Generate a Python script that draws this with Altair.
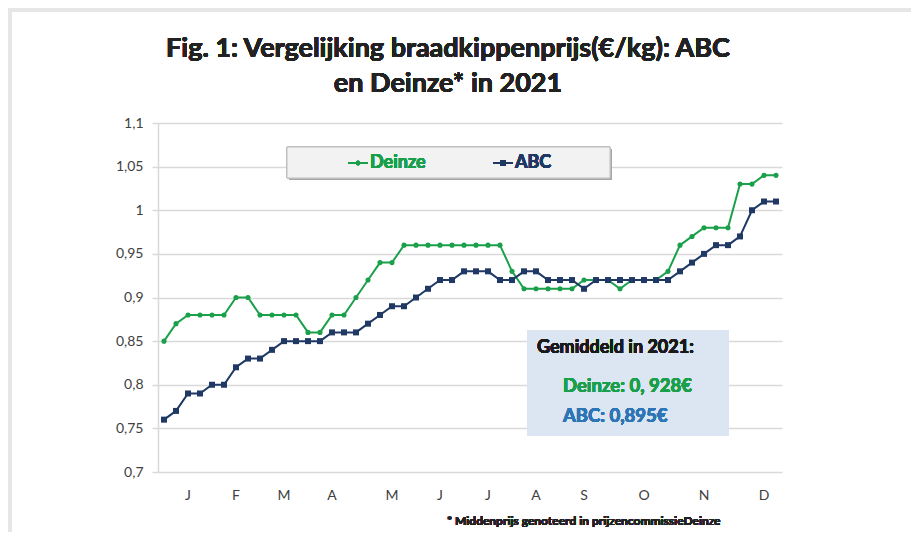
import altair as alt
import pandas as pd

# ---- data (weekly quotations 2021) ----
weeks = list(range(52))
deinze = [0.85, 0.87, 0.88, 0.88, 0.88, 0.88, 0.90, 0.90, 0.88, 0.88,
          0.88, 0.88, 0.86, 0.86, 0.88, 0.88, 0.90, 0.92, 0.94, 0.94,
          0.96, 0.96, 0.96, 0.96, 0.96, 0.96, 0.96, 0.96, 0.96, 0.93,
          0.91, 0.91, 0.91, 0.91, 0.91, 0.92, 0.92, 0.92, 0.91, 0.92,
          0.92, 0.92, 0.93, 0.96, 0.97, 0.98, 0.98, 0.98, 1.03, 1.03,
          1.04, 1.04]
abc = [0.76, 0.77, 0.79, 0.79, 0.80, 0.80, 0.82, 0.83, 0.83, 0.84,
       0.85, 0.85, 0.85, 0.85, 0.86, 0.86, 0.86, 0.87, 0.88, 0.89,
       0.89, 0.90, 0.91, 0.92, 0.92, 0.93, 0.93, 0.93, 0.92, 0.92,
       0.93, 0.93, 0.92, 0.92, 0.92, 0.91, 0.92, 0.92, 0.92, 0.92,
       0.92, 0.92, 0.92, 0.93, 0.94, 0.95, 0.96, 0.96, 0.97, 1.00,
       1.01, 1.01]
series_names = ["Deinze", "ABC"]
month_labels = ["J", "F", "M", "A", "M", "J", "J", "A", "S", "O", "N", "D"]
month_weeks = [2, 6, 10, 14, 19, 23, 27, 31, 35, 40, 45, 50]
y_ticks = [0.7, 0.75, 0.8, 0.85, 0.9, 0.95, 1.0, 1.05, 1.1]
title_lines = ["Fig. 1: Vergelijking braadkippenprijs(€/kg): ABC", "en Deinze* in 2021"]
avg_title = "Gemiddeld in 2021:"
avg_deinze = "Deinze: 0, 928€"
avg_abc = "ABC: 0,895€"
footnote = "* Middenprijs genoteerd in prijzencommissieDeinze"

GREEN = "#1aa04a"
NAVY = "#1f3864"
BLUE = "#2e75b6"
FONT = "Lato"

W, H = 624, 349

df_d = pd.DataFrame({"week": weeks, "price": deinze, "series": "Deinze"})
df_a = pd.DataFrame({"week": weeks, "price": abc, "series": "ABC"})
df_m = pd.DataFrame({"week": month_weeks, "label": month_labels})

xscale = alt.Scale(domain=[-0.5, 51.5], nice=False, zero=False)
yscale = alt.Scale(domain=[0.7, 1.1], nice=False, zero=False)

x_enc = alt.X("week:Q", scale=xscale,
              axis=alt.Axis(values=[i - 0.5 for i in range(53)], labels=False,
                            tickSize=4, tickColor="#bfbfbf", tickWidth=1,
                            domainColor="#bfbfbf", domainWidth=1.5,
                            grid=False, title=None))
y_enc = alt.Y("price:Q", scale=yscale,
              axis=alt.Axis(values=y_ticks,
                            labelExpr="replace(format(datum.value, '.2~f'), '.', ',')",
                            tickSize=6, tickColor="#d9d9d9", tickWidth=1.5,
                            labelPadding=9, domainColor="#d9d9d9", domainWidth=1.5,
                            gridColor="#d9d9d9", gridWidth=1.5,
                            labelFont=FONT, labelFontSize=14, labelColor="#404040",
                            title=None))


def series_layers(df, color, shape, size):
    line = alt.Chart(df).mark_line(color=color, strokeWidth=2).encode(x=x_enc, y=y_enc)
    pts = alt.Chart(df).mark_point(color=color, filled=True, opacity=1,
                                   shape=shape, size=size).encode(x=x_enc, y=y_enc)
    return [line, pts]


layers = []
# frame of the original picture
frame = alt.Chart(df_m).mark_rect(fill=None, stroke="#e6e6e6", strokeWidth=3).encode(
    x=alt.value(-148), x2=alt.value(W + 200), y=alt.value(-113), y2=alt.value(H + 200))
layers.append(frame)

layers += series_layers(df_d, GREEN, "circle", 26)
layers += series_layers(df_a, NAVY, "square", 36)

# month labels
months = alt.Chart(df_m).mark_text(font=FONT, fontSize=14, color="#404040",
                                   baseline="middle").encode(
    x=alt.X("week:Q", scale=xscale, axis=None), y=alt.value(H + 24), text="label:N")
layers.append(months)

# title
for i, t in enumerate(title_lines):
    layers.append(alt.Chart(df_m).mark_text(text=t, font=FONT, fontSize=27,
                                             fontWeight="bold", color="#222222",
                                             align="center", baseline="middle").encode(
        x=alt.value(290), y=alt.value(-74 + 35 * i)))

# legend box
layers.append(alt.Chart(df_m).mark_rect(fill="#a6a6a6").encode(
    x=alt.value(131), x2=alt.value(454), y=alt.value(26), y2=alt.value(57)))
layers.append(alt.Chart(df_m).mark_rect(fill="#f2f2f2", stroke="#bfbfbf", strokeWidth=1).encode(
    x=alt.value(129), x2=alt.value(452), y=alt.value(24), y2=alt.value(55)))
for name, col, shape, size, x0 in [("Deinze", GREEN, "circle", 22, 190),
                                    ("ABC", NAVY, "square", 30, 335)]:
    layers.append(alt.Chart(df_m).mark_rule(color=col, strokeWidth=2).encode(
        x=alt.value(x0), x2=alt.value(x0 + 20), y=alt.value(40)))
    layers.append(alt.Chart(df_m).mark_point(color=col, filled=True, opacity=1,
                                             shape=shape, size=size).encode(
        x=alt.value(x0 + 10), y=alt.value(40)))
    layers.append(alt.Chart(df_m).mark_text(text=name, font=FONT, fontSize=18,
                                             fontWeight="bold", color=col,
                                             align="left", baseline="middle").encode(
        x=alt.value(x0 + 22), y=alt.value(40)))

# average box
layers.append(alt.Chart(df_m).mark_rect(fill="#dce6f2").encode(
    x=alt.value(369), x2=alt.value(571), y=alt.value(207), y2=alt.value(313)))
for txt, col, xx, yy, fs in [(avg_title, "#1a1a1a", 379, 225, 18),
                             (avg_deinze, GREEN, 405, 263, 18.5),
                             (avg_abc, BLUE, 405, 293, 18.5)]:
    layers.append(alt.Chart(df_m).mark_text(text=txt, font=FONT, fontSize=fs,
                                             fontWeight="bold", color=col,
                                             align="left", baseline="middle").encode(
        x=alt.value(xx), y=alt.value(yy)))

# footnote
layers.append(alt.Chart(df_m).mark_text(text=footnote, font=FONT, fontSize=12,
                                         fontWeight="bold", color="#222222",
                                         align="left", baseline="middle").encode(
    x=alt.value(289), y=alt.value(398)))

chart = alt.layer(*layers).properties(
    width=W, height=H,
    autosize=alt.AutoSizeParams(type="none"),
    padding={"left": 150, "top": 115, "right": 129, "bottom": 60},
    background="white",
).configure_view(stroke=None)

chart.save("out.html", embed_options={"renderer": "svg", "actions": False})
